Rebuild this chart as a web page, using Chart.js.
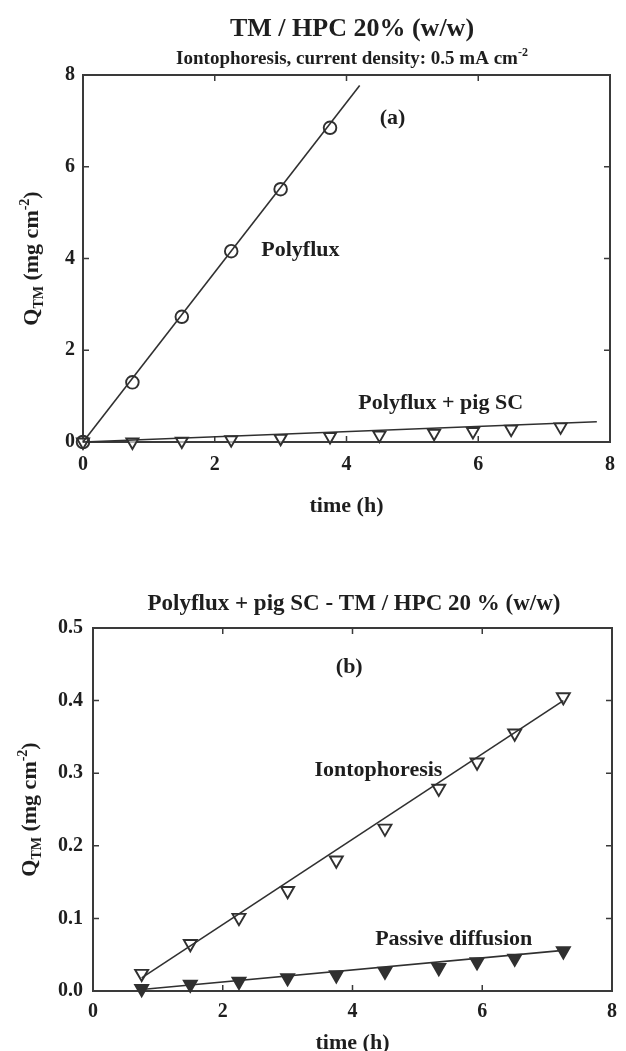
<!DOCTYPE html>
<html>
<head>
<meta charset="utf-8">
<script src="https://cdn.jsdelivr.net/npm/chart.js@4.4.1/dist/chart.umd.min.js"></script>
<style>
  html, body { margin: 0; padding: 0; background: #fff; }
  #wrap { position: relative; width: 626px; height: 1051px; overflow: hidden; }
  canvas { position: absolute; left: 0; }
  #chartA { top: 0; }
  #chartB { top: 525px; }
</style>
</head>
<body>
<div id="wrap">
  <canvas id="chartA" width="626" height="525"></canvas>
  <canvas id="chartB" width="626" height="526"></canvas>
</div>
<script>
// (a) Polyflux membrane alone, iontophoresis
const timePolyflux = [0, 0.75, 1.5, 2.25, 3.0, 3.75]
const qPolyflux = [0, 1.30, 2.73, 4.16, 5.51, 6.85]
const fitPolyfluxT = [0, 4.2]
const fitPolyfluxQ = [0, 7.77]

// (a) Polyflux + pig SC, iontophoresis
const timeSC = [0, 0.75, 1.5, 2.25, 3.0, 3.75, 4.5, 5.33, 5.92, 6.5, 7.25]
const qSC = [0, 0.0, 0.02, 0.05, 0.08, 0.12, 0.15, 0.19, 0.23, 0.28, 0.33]
const fitSCT = [0, 7.8]
const fitSCQ = [0, 0.44]

// (b) Polyflux + pig SC
const timeB = [0.75, 1.5, 2.25, 3.0, 3.75, 4.5, 5.33, 5.92, 6.5, 7.25]
const qIonto = [0.024, 0.065, 0.101, 0.138, 0.180, 0.224, 0.279, 0.315, 0.355, 0.405]
const qPassive = [0.003, 0.009, 0.013, 0.018, 0.022, 0.027, 0.032, 0.040, 0.045, 0.055]
const fitIontoT = [0.75, 7.25]
const fitIontoQ = [0.018, 0.400]
const fitPassiveT = [0.75, 7.25]
const fitPassiveQ = [0.002, 0.056]

const xTicks = [0, 2, 4, 6, 8]
const yTicksA = [0, 2, 4, 6, 8]
const yTicksB = [0, 0.1, 0.2, 0.3, 0.4, 0.5]

const FAMILY = '"Liberation Serif", "Times New Roman", serif'
const INK = '#1e1e1e'
const LINE = '#303030'

function pts(xs, ys) {
    return xs.map((x, i) => ({ x: x, y: ys[i] }))
}

function fnt(size) {
    return 'bold ' + size + 'px ' + FAMILY
}

// draws text made of normal / sub / sup parts, centred on (x, y)
function richText(ctx, parts, x, y, size, vertical) {
    ctx.save()
    ctx.translate(x, y)
    if (vertical) ctx.rotate(-Math.PI / 2)
    let total = 0
    parts.forEach(p => {
        p.size = (p.sub || p.sup) ? Math.round(size * 0.62) : size
        ctx.font = fnt(p.size)
        p.w = ctx.measureText(p.t).width
        total += p.w
    })
    let cx = -total / 2
    ctx.fillStyle = INK
    ctx.textAlign = 'left'
    ctx.textBaseline = 'alphabetic'
    parts.forEach(p => {
        ctx.font = fnt(p.size)
        let dy = p.sub ? size * 0.22 : p.sup ? -size * 0.42 : 0
        ctx.fillText(p.t, cx, size * 0.34 + dy)
        cx += p.w
    })
    ctx.restore()
}

// box round the plot with inward ticks on all four sides
const frame = {
    id: 'frame',
    beforeDatasetsDraw(chart, args, opts) {
        const ctx = chart.ctx
        const a = chart.chartArea
        const sx = chart.scales.x, sy = chart.scales.y
        ctx.save()
        ctx.strokeStyle = '#3a3a3a'
        ctx.lineWidth = 2
        ctx.strokeRect(a.left, a.top, a.right - a.left, a.bottom - a.top)
        ctx.lineWidth = 1.5
        ctx.beginPath()
        opts.xTicks.slice(1, -1).forEach(v => {
            const px = sx.getPixelForValue(v)
            ctx.moveTo(px, a.bottom); ctx.lineTo(px, a.bottom - 6)
            ctx.moveTo(px, a.top); ctx.lineTo(px, a.top + 6)
        })
        opts.yTicks.slice(1, -1).forEach(v => {
            const py = sy.getPixelForValue(v)
            ctx.moveTo(a.left, py); ctx.lineTo(a.left + 6, py)
            ctx.moveTo(a.right, py); ctx.lineTo(a.right - 6, py)
        })
        ctx.stroke()
        ctx.restore()
    }
}

// titles, axis titles and in-plot labels
const notes = {
    id: 'notes',
    afterDraw(chart, args, opts) {
        const ctx = chart.ctx
        const a = chart.chartArea
        const sx = chart.scales.x, sy = chart.scales.y
        opts.titles.forEach(t => richText(ctx, t.parts, t.x, t.y, t.size, false))
        richText(ctx, [{ t: 'time (h)' }], (a.left + a.right) / 2, opts.xTitleY, 22, false)
        richText(ctx, [{ t: 'Q' }, { t: 'TM', sub: true }, { t: ' (mg cm' }, { t: '-2', sup: true }, { t: ')' }],
            opts.yTitleX, (a.top + a.bottom) / 2, 22, true)
        opts.labels.forEach(l => {
            richText(ctx, [{ t: l.text }], sx.getPixelForValue(l.x), sy.getPixelForValue(l.y), 22, false)
        })
    }
}

function scatterSet(data, style, fill, radius) {
    return {
        data: data, showLine: false, clip: false,
        pointStyle: style,
        rotation: style === 'triangle' ? 180 : 0,
        pointRadius: radius,
        pointBorderWidth: 1.9,
        pointBorderColor: LINE,
        pointBackgroundColor: fill
    }
}

function fitSet(data) {
    return {
        data: data, showLine: true, pointRadius: 0, clip: false,
        borderColor: LINE, borderWidth: 1.6, fill: false
    }
}

function baseOptions(cfg) {
    return {
        responsive: false,
        animation: false,
        layout: { padding: cfg.padding },
        plugins: {
            legend: { display: false },
            tooltip: { enabled: false },
            frame: { xTicks: xTicks, yTicks: cfg.yTicks },
            notes: cfg.notes
        },
        scales: {
            x: {
                type: 'linear', min: 0, max: 8,
                afterBuildTicks: s => { s.ticks = xTicks.map(v => ({ value: v })) },
                afterFit: s => { s.height = 40 },
                grid: { display: false, drawTicks: false },
                border: { display: false },
                ticks: { font: { family: FAMILY, size: 20, weight: 'bold' }, color: INK, padding: cfg.xPad, maxRotation: 0 }
            },
            y: {
                type: 'linear', min: cfg.yTicks[0], max: cfg.yTicks[cfg.yTicks.length - 1],
                afterBuildTicks: s => { s.ticks = cfg.yTicks.map(v => ({ value: v })) },
                afterFit: s => { s.width = cfg.yWidth },
                grid: { display: false, drawTicks: false },
                border: { display: false },
                ticks: {
                    font: { family: FAMILY, size: 20, weight: 'bold' }, color: INK, padding: cfg.yPad,
                    callback: cfg.yFormat
                }
            }
        }
    }
}

new Chart(document.getElementById('chartA'), {
    type: 'scatter',
    data: {
        datasets: [
            fitSet(pts(fitPolyfluxT, fitPolyfluxQ)),
            fitSet(pts(fitSCT, fitSCQ)),
            scatterSet(pts(timePolyflux, qPolyflux), 'circle', 'rgba(0,0,0,0)', 6.3),
            scatterSet(pts(timeSC, qSC), 'triangle', 'rgba(255,255,255,0.6)', 7)
        ]
    },
    options: baseOptions({
        padding: { top: 75, left: 0, right: 8, bottom: 43 },
        yTicks: yTicksA,
        yWidth: 83,
        xPad: 11,
        yPad: 8,
        yFormat: v => String(v),
        notes: {
            titles: [
                { parts: [{ t: 'TM / HPC 20% (w/w)' }], x: 352, y: 27, size: 26 },
                { parts: [{ t: 'Iontophoresis, current density: 0.5 mA cm' }, { t: '-2', sup: true }], x: 352, y: 58, size: 19 }
            ],
            xTitleY: 505,
            yTitleX: 31,
            labels: [
                { text: '(a)', x: 4.7, y: 7.1 },
                { text: 'Polyflux', x: 3.3, y: 4.22 },
                { text: 'Polyflux + pig SC', x: 5.43, y: 0.88 }
            ]
        }
    }),
    plugins: [frame, notes]
})

new Chart(document.getElementById('chartB'), {
    type: 'scatter',
    data: {
        datasets: [
            fitSet(pts(fitIontoT, fitIontoQ)),
            fitSet(pts(fitPassiveT, fitPassiveQ)),
            scatterSet(pts(timeB, qIonto), 'triangle', 'rgba(255,255,255,0.6)', 7.5),
            scatterSet(pts(timeB, qPassive), 'triangle', LINE, 7.5)
        ]
    },
    options: baseOptions({
        padding: { top: 103, left: 0, right: 7, bottom: 20 },
        yTicks: yTicksB,
        yWidth: 93,
        xPad: 9,
        yPad: 10,
        yFormat: v => Number(v).toFixed(1),
        notes: {
            titles: [
                { parts: [{ t: 'Polyflux + pig SC - TM / HPC 20 % (w/w)' }], x: 354, y: 77, size: 23 }
            ],
            xTitleY: 517,
            yTitleX: 29,
            labels: [
                { text: '(b)', x: 3.95, y: 0.448 },
                { text: 'Iontophoresis', x: 4.4, y: 0.307 },
                { text: 'Passive diffusion', x: 5.56, y: 0.073 }
            ]
        }
    }),
    plugins: [frame, notes]
})
</script>
</body>
</html>
